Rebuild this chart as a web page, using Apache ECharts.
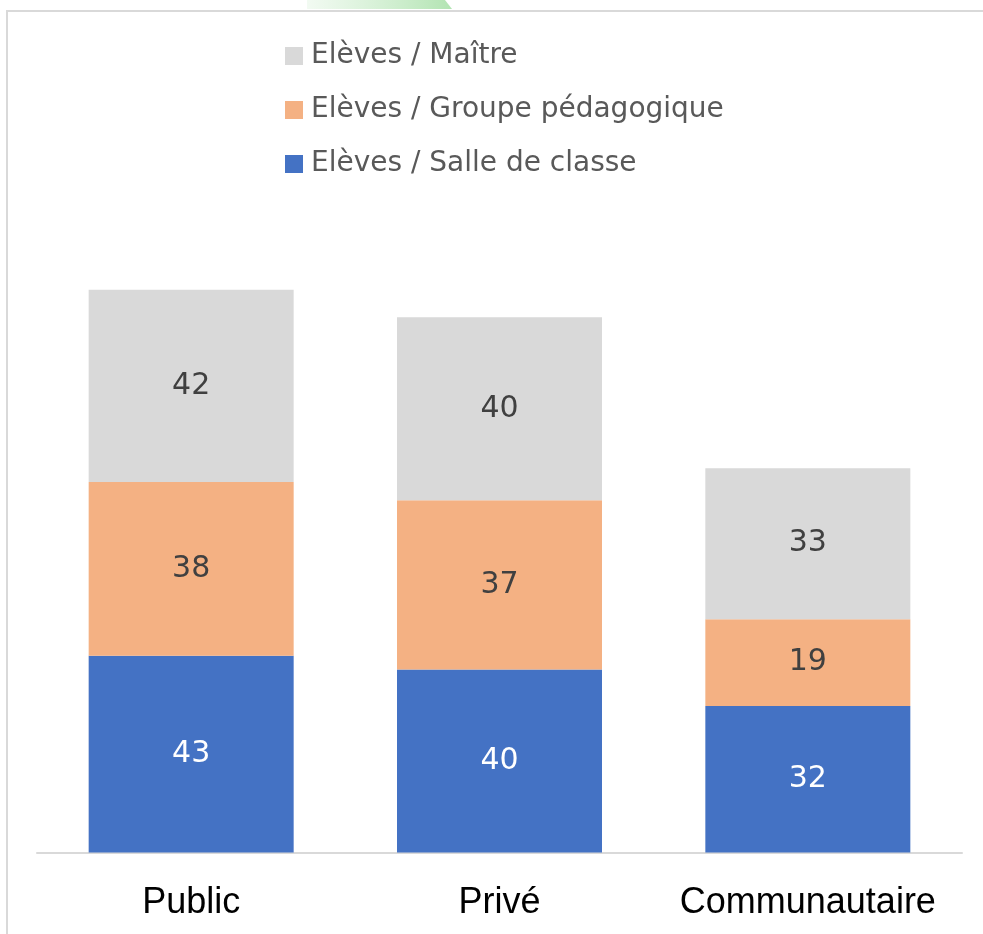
<!DOCTYPE html>
<html>
<head>
<meta charset="utf-8">
<style>html,body{margin:0;padding:0;background:#fff;}#chart{width:983px;height:934px;}</style>
<script src="https://cdn.jsdelivr.net/npm/echarts@6/dist/echarts.min.js"></script>
</head>
<body>
<div id="chart"></div>
<script>
var categories = ['Public', 'Privé', 'Communautaire'];
var salleClasse = [43, 40, 32];
var groupePeda = [38, 37, 19];
var maitre = [42, 40, 33];
var seriesNames = ['Elèves / Salle de classe', 'Elèves / Groupe pédagogique', 'Elèves / Maître'];
var legendOrder = ['Elèves / Maître', 'Elèves / Groupe pédagogique', 'Elèves / Salle de classe'];

var chart = echarts.init(document.getElementById('chart'));
function mk(name, data, color, labelColor) {
  return {
    name: name, type: 'bar', stack: 'total', data: data,
    barWidth: 205,
    itemStyle: { color: color },
    label: { show: true, position: 'inside', color: labelColor, fontFamily: 'DejaVu Sans', fontSize: 30 },
    emphasis: { disabled: true }
  };
}
chart.setOption({
  animation: false,
  backgroundColor: '#ffffff',
  graphic: [
    { type: 'rect', shape: { x: 7, y: 11, width: 1000, height: 960 }, style: { fill: 'none', stroke: '#d9d9d9', lineWidth: 2 }, silent: true },
    { type: 'polygon', shape: { points: [[307, 0], [445, 0], [452, 9], [307, 9]] },
      style: { fill: new echarts.graphic.LinearGradient(0, 0, 1, 0, [{ offset: 0, color: 'rgba(190,232,190,0.2)' }, { offset: 1, color: 'rgba(170,225,170,0.9)' }]) }, silent: true }
  ],
  legend: {
    orient: 'vertical', left: 285, top: 42, padding: 0,
    data: legendOrder,
    icon: 'rect', itemWidth: 18, itemHeight: 18, itemGap: 26,
    textStyle: { fontFamily: 'DejaVu Sans', fontSize: 28, color: '#595959', lineHeight: 28, padding: [0, 0, 0, 3] },
    selectedMode: false
  },
  grid: { left: 37, right: 21, top: 212, bottom: 81.5, containLabel: false },
  xAxis: {
    type: 'category', data: categories,
    axisLine: { show: true, lineStyle: { color: '#d9d9d9', width: 2 } },
    axisTick: { show: false },
    axisLabel: { interval: 0, color: '#000000', fontFamily: 'Liberation Sans', fontSize: 36, margin: 33 }
  },
  yAxis: {
    type: 'value', min: 0, max: 140, show: false,
    splitLine: { show: false }
  },
  series: [
    mk(seriesNames[0], salleClasse, '#4472c4', '#ffffff'),
    mk(seriesNames[1], groupePeda, '#f4b183', '#404040'),
    mk(seriesNames[2], maitre, '#d9d9d9', '#404040')
  ]
});
</script>
</body>
</html>
